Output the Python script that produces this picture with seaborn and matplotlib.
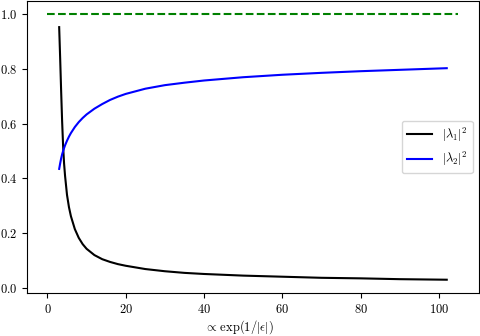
import numpy as np
import pandas as pd
import matplotlib
matplotlib.use("Agg")
import matplotlib.pyplot as plt
import seaborn as sns

# values
x_vals = [3, 3.25, 3.5, 3.75, 4, 4.25, 4.5, 5, 5.5, 6, 7, 8, 9, 10, 12, 14, 16, 18,
          20, 25, 30, 35, 40, 50, 60, 70, 80, 90, 102]
lam1_sq = [0.953, 0.84, 0.72, 0.61, 0.52, 0.455, 0.41, 0.34, 0.295, 0.262, 0.215, 0.183,
           0.16, 0.143, 0.12, 0.105, 0.095, 0.087, 0.081, 0.069, 0.061, 0.055, 0.051,
           0.045, 0.041, 0.037, 0.035, 0.032, 0.030]
lam2_sq = [0.435, 0.455, 0.473, 0.488, 0.50, 0.511, 0.521, 0.538, 0.553, 0.566, 0.588,
           0.606, 0.621, 0.634, 0.655, 0.672, 0.687, 0.699, 0.709, 0.728, 0.741, 0.75,
           0.758, 0.77, 0.779, 0.786, 0.792, 0.797, 0.803]
bound_x = [0, 105]
bound_y = [1.0, 1.0]

plt.rcParams['font.family'] = 'serif'
plt.rcParams['font.serif'] = ['cmr10']
plt.rcParams['mathtext.fontset'] = 'cm'
plt.rcParams['axes.formatter.use_mathtext'] = True
plt.rcParams['font.size'] = 9

df = pd.DataFrame({'x': x_vals, 'l1': lam1_sq, 'l2': lam2_sq})
df_b = pd.DataFrame({'x': bound_x, 'y': bound_y})

fig, ax = plt.subplots(figsize=(4.8, 3.36), dpi=100)
fig.subplots_adjust(left=0.056, right=0.998, bottom=0.128, top=0.997)

sns.lineplot(data=df_b, x='x', y='y', color='g', linestyle='--', ax=ax)
sns.lineplot(data=df, x='x', y='l1', color='k', label=r'$|\lambda_1|^2$', ax=ax)
sns.lineplot(data=df, x='x', y='l2', color='b', label=r'$|\lambda_2|^2$', ax=ax)

ax.set_ylabel('')
ax.set_xlabel(r'$\propto\,\exp(1/|\epsilon|)$')
ax.xaxis.set_label_coords(0.47, -0.085)
ax.legend(loc='center right')

plt.savefig('out.png', dpi=100)
